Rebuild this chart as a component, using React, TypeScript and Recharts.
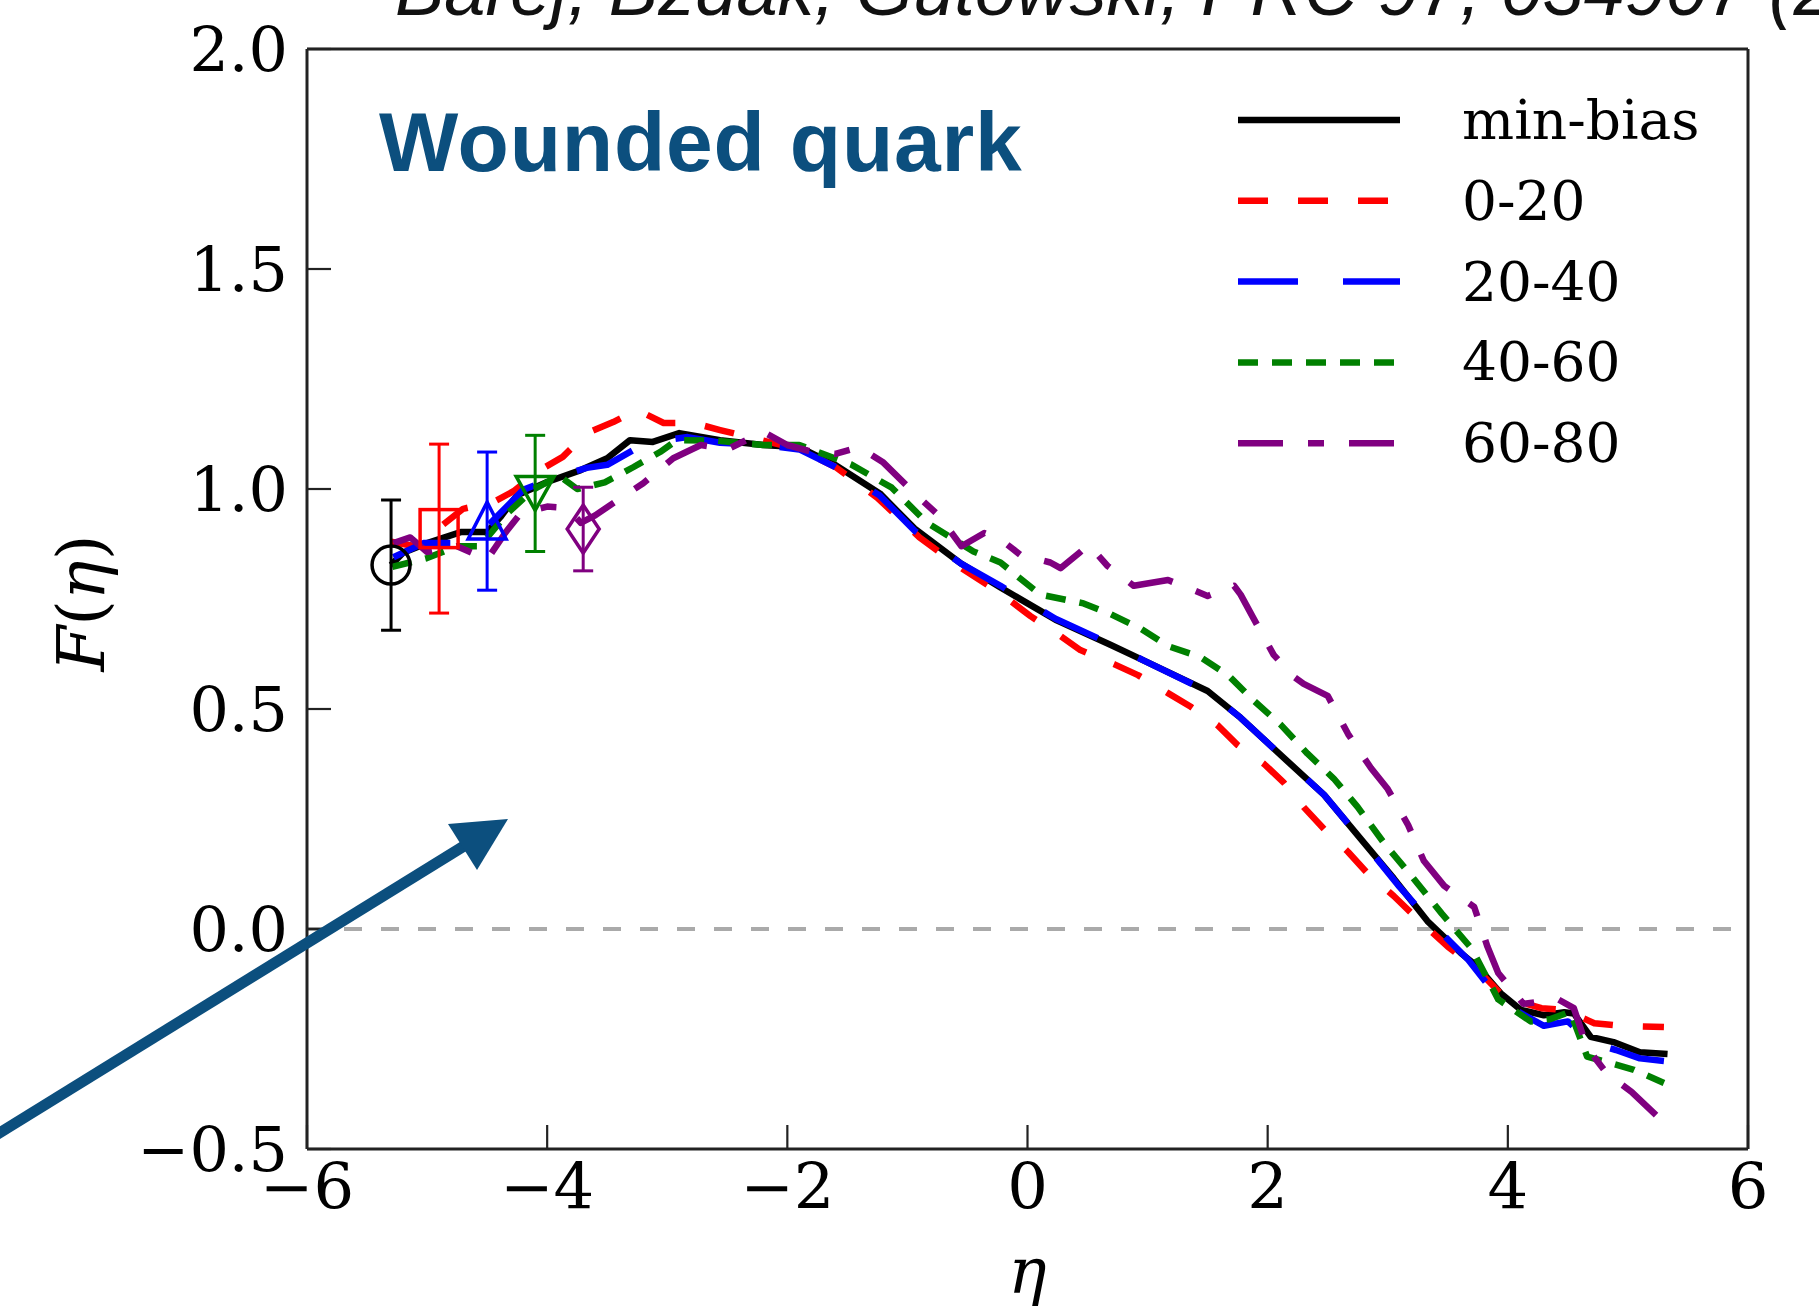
import React from "react";
import {
  ComposedChart,
  Line,
  Scatter,
  XAxis,
  YAxis,
  ReferenceLine,
  ErrorBar,
  Legend,
} from "recharts";

// ---------- data ----------
const xTicks = [-6, -4, -2, 0, 2, 4, 6];
const yTicks = [-0.5, 0, 0.5, 1.0, 1.5, 2.0];

const etaMinBias = [-5.3, -5.2, -5.0, -4.72, -4.5, -4.39, -4.25, -4.0, -3.72, -3.5, -3.31, -3.12, -2.9, -2.56, -2.2, -1.9, -1.61, -1.23, -0.94, -0.55, -0.225, 0.233, 0.69, 0.97, 1.5, 1.775, 2.13, 2.47, 2.775, 3.05, 3.33, 3.61, 3.75, 3.94, 4.11, 4.3, 4.47, 4.55, 4.69, 4.88, 5.1, 5.33];
const fMinBias = [0.827, 0.855, 0.877, 0.902, 0.902, 0.936, 0.986, 1.016, 1.043, 1.07, 1.111, 1.107, 1.127, 1.111, 1.1, 1.095, 1.056, 0.99, 0.91, 0.83, 0.776, 0.703, 0.646, 0.61, 0.541, 0.48, 0.39, 0.305, 0.205, 0.115, 0.018, -0.055, -0.086, -0.146, -0.184, -0.196, -0.189, -0.192, -0.245, -0.257, -0.28, -0.284];

const eta0020 = [-5.3, -5.1, -4.89, -4.7, -4.45, -4.28, -4.06, -3.87, -3.67, -3.45, -3.25, -3.03, -2.78, -2.56, -2.2, -1.9, -1.6, -1.25, -0.9, -0.55, -0.225, 0.025, 0.275, 0.44, 0.72, 0.92, 1.17, 1.36, 1.58, 1.75, 1.97, 2.13, 2.3, 2.47, 2.67, 2.83, 3.05, 3.22, 3.5, 3.75, 3.97, 4.28, 4.47, 4.72, 4.94, 5.3];
const f0020 = [0.88, 0.87, 0.914, 0.955, 0.97, 0.995, 1.043, 1.073, 1.127, 1.152, 1.18, 1.15, 1.15, 1.134, 1.11, 1.09, 1.05, 0.98, 0.89, 0.82, 0.763, 0.711, 0.666, 0.634, 0.602, 0.577, 0.536, 0.505, 0.464, 0.418, 0.375, 0.334, 0.277, 0.227, 0.175, 0.127, 0.075, 0.03, -0.04, -0.093, -0.155, -0.18, -0.184, -0.214, -0.22, -0.223];

const eta2040 = [-5.28, -5.03, -4.78, -4.6, -4.47, -4.2, -3.9, -3.67, -3.5, -3.28, -3.05, -2.83, -2.56, -2.2, -1.9, -1.6, -1.23, -0.94, -0.55, -0.225, 0.233, 0.69, 0.97, 1.5, 1.775, 2.13, 2.47, 2.775, 3.1, 3.36, 3.67, 3.89, 4.1, 4.3, 4.5, 4.7, 4.9, 5.1, 5.3];
const f2040 = [0.845, 0.877, 0.877, 0.89, 0.923, 0.998, 1.03, 1.048, 1.055, 1.089, 1.11, 1.118, 1.105, 1.1, 1.09, 1.05, 0.985, 0.905, 0.83, 0.78, 0.705, 0.648, 0.61, 0.54, 0.48, 0.39, 0.305, 0.205, 0.095, 0.015, -0.07, -0.146, -0.19, -0.22, -0.21, -0.26, -0.275, -0.294, -0.3];

const eta4060 = [-5.29, -5.0, -4.75, -4.56, -4.33, -4.12, -3.9, -3.75, -3.52, -3.28, -3.06, -2.92, -2.6, -2.2, -1.9, -1.47, -1.13, -0.84, -0.45, -0.225, -0.058, 0.108, 0.467, 0.69, 0.94, 1.17, 1.44, 1.67, 1.88, 2.11, 2.33, 2.55, 2.75, 2.97, 3.19, 3.45, 3.7, 3.92, 4.19, 4.35, 4.52, 4.66, 5.05, 5.3];
const f4060 = [0.823, 0.843, 0.87, 0.87, 0.945, 0.998, 1.03, 1.0, 1.015, 1.05, 1.084, 1.111, 1.11, 1.1, 1.1, 1.056, 1.003, 0.924, 0.858, 0.833, 0.796, 0.76, 0.74, 0.716, 0.683, 0.643, 0.618, 0.577, 0.52, 0.464, 0.399, 0.342, 0.277, 0.195, 0.123, 0.035, -0.045, -0.16, -0.21, -0.205, -0.188, -0.29, -0.32, -0.35];

const eta6080 = [-5.28, -5.14, -5.0, -4.75, -4.5, -4.35, -4.22, -4.0, -3.83, -3.72, -3.6, -3.45, -3.2, -2.95, -2.72, -2.5, -2.2, -2.0, -1.8, -1.6, -1.4, -1.2, -0.94, -0.74, -0.55, -0.36, -0.225, -0.058, 0.19, 0.275, 0.44, 0.51, 0.667, 0.885, 1.17, 1.33, 1.5, 1.72, 1.775, 1.88, 2.05, 2.22, 2.3, 2.5, 2.67, 2.8, 2.86, 3.0, 3.17, 3.3, 3.47, 3.72, 3.83, 3.92, 4.13, 4.42, 4.55, 4.66, 4.83, 5.03, 5.3];
const f6080 = [0.877, 0.89, 0.857, 0.87, 0.84, 0.9, 0.945, 0.96, 0.957, 0.923, 0.94, 0.968, 1.013, 1.07, 1.1, 1.09, 1.13, 1.1, 1.085, 1.08, 1.095, 1.06, 0.99, 0.94, 0.87, 0.9, 0.886, 0.85, 0.833, 0.82, 0.857, 0.874, 0.825, 0.78, 0.793, 0.776, 0.757, 0.78, 0.76, 0.707, 0.623, 0.573, 0.557, 0.53, 0.443, 0.39, 0.366, 0.318, 0.236, 0.155, 0.098, 0.05, -0.04, -0.1, -0.17, -0.16, -0.18, -0.27, -0.33, -0.37, -0.44];

const markerEta = [-5.3, -4.9, -4.5, -4.1, -3.7];
const markerF = [0.827, 0.91, 0.927, 0.99, 0.909];
const markerErr = [0.148, 0.192, 0.157, 0.132, 0.095];

const seriesNames = ["min-bias", "0-20", "20-40", "40-60", "60-80"];
const seriesColors = ["#000000", "#ff0000", "#0000ff", "#008000", "#800080"];
const seriesDashes = [undefined, "30 30", "60 45", "20 14", "45 25 16 25"];
const markerShapes = ["circle", "square", "triangleUp", "triangleDown", "thinDiamond"];

const toPoints = (xs: number[], ys: number[]) => xs.map((x, i) => ({ x, y: ys[i] }));
const seriesData = [
  toPoints(etaMinBias, fMinBias),
  toPoints(eta0020, f0020),
  toPoints(eta2040, f2040),
  toPoints(eta4060, f4060),
  toPoints(eta6080, f6080),
];
const markerData = markerEta.map((x, i) => [{ x, y: markerF[i], err: markerErr[i] }]);

// ---------- styling helpers ----------
const SERIF = "'DejaVu Serif', serif";
const SANS = "'Liberation Sans', Arial, sans-serif";
const FRAME = "#222222";
const LINE_W = 6.5;
const fmtNum = (v: number, digits: number) =>
  (v < 0 ? "\u2212" : "") + Math.abs(v).toFixed(digits);

const XTick = (props: any) => {
  const { x, y, payload } = props;
  return (
    <text x={x} y={y + 60} textAnchor="middle" fontFamily={SERIF} fontSize={64} fill="#000">
      {fmtNum(payload.value, 0)}
    </text>
  );
};

const YTick = (props: any) => {
  const { x, y, payload } = props;
  return (
    <text x={x - 19} y={y + 22} textAnchor="end" fontFamily={SERIF} fontSize={62} fill="#000">
      {fmtNum(payload.value, 1)}
    </text>
  );
};

const XLabel = (props: any) => {
  const vb = props.viewBox || { x: 307, y: 1149, width: 1441, height: 160 };
  return (
    <text x={vb.x + vb.width / 2} y={vb.y + 144} textAnchor="middle" fontFamily={SERIF} fontStyle="italic" fontSize={64} fill="#000">
      η
    </text>
  );
};

const YLabel = (props: any) => {
  const vb = props.viewBox || { x: 0, y: 49, width: 307, height: 1100 };
  const cx = vb.x + 81;
  const cy = vb.y + vb.height / 2 + 4;
  return (
    <text x={cx} y={cy} transform={`rotate(-90 ${cx} ${cy})`} textAnchor="middle" dominantBaseline="central" fontFamily={SERIF} fontSize={66} fill="#000">
      <tspan fontStyle="italic">F</tspan>
      <tspan>(</tspan>
      <tspan fontStyle="italic">η</tspan>
      <tspan>)</tspan>
    </text>
  );
};

const makeMarker = (kind: string, color: string) => (props: any) => {
  const { cx, cy } = props;
  const common = { fill: "none", stroke: color, strokeWidth: 3.5 };
  if (kind === "circle") return <circle cx={cx} cy={cy} r={19} {...common} />;
  if (kind === "square") return <rect x={cx - 19} y={cy - 19} width={38} height={38} {...common} />;
  if (kind === "triangleUp")
    return <polygon points={`${cx},${cy - 19} ${cx - 19},${cy + 18} ${cx + 19},${cy + 18}`} {...common} />;
  if (kind === "triangleDown")
    return <polygon points={`${cx - 19},${cy - 17} ${cx + 19},${cy - 17} ${cx},${cy + 17}`} {...common} />;
  return <polygon points={`${cx},${cy - 24} ${cx + 16},${cy} ${cx},${cy + 24} ${cx - 16},${cy}`} {...common} />;
};

const LegendContent = () => (
  <svg width={560} height={400} style={{ display: "block" }}>
    {seriesNames.map((name, i) => {
      const y = 40 + i * 80.8;
      return (
        <g key={name}>
          <line x1={22} x2={184} y1={y} y2={y} stroke={seriesColors[i]} strokeWidth={LINE_W} strokeDasharray={seriesDashes[i]} />
          <text x={246} y={y + 19} fontFamily={SERIF} fontSize={55} fill="#000">
            {name}
          </text>
        </g>
      );
    })}
  </svg>
);

export default function App() {
  return (
    <div style={{ position: "absolute", left: 0, top: 0, width: 1819, height: 1309, background: "#fff", overflow: "hidden" }}>
      <ComposedChart width={1819} height={1309} margin={{ top: 48, right: 70, bottom: 0, left: 0 }}>
        <XAxis
          xAxisId="b"
          dataKey="x"
          type="number"
          domain={[-6, 6]}
          ticks={xTicks}
          interval={0}
          allowDataOverflow
          orientation="bottom"
          height={160}
          tickSize={-24}
          tickMargin={24}
          tick={<XTick />}
          axisLine={{ stroke: FRAME, strokeWidth: 3 }}
          tickLine={{ stroke: FRAME, strokeWidth: 2.2 }}
          label={<XLabel />}
        />
        <XAxis
          xAxisId="t"
          dataKey="x"
          type="number"
          domain={[-6, 6]}
          ticks={xTicks}
          interval={0}
          allowDataOverflow
          orientation="top"
          height={1}
          tickSize={-24}
          tick={false}
          axisLine={{ stroke: FRAME, strokeWidth: 3 }}
          tickLine={{ stroke: FRAME, strokeWidth: 2.2 }}
        />
        <YAxis
          yAxisId="l"
          type="number"
          domain={[-0.5, 2]}
          ticks={yTicks}
          interval={0}
          allowDataOverflow
          width={307}
          tickSize={-24}
          tickMargin={24}
          tick={<YTick />}
          axisLine={{ stroke: FRAME, strokeWidth: 3 }}
          tickLine={{ stroke: FRAME, strokeWidth: 2.2 }}
          label={<YLabel />}
        />
        <YAxis
          yAxisId="r"
          orientation="right"
          type="number"
          domain={[-0.5, 2]}
          ticks={yTicks}
          interval={0}
          allowDataOverflow
          width={1}
          tickSize={-24}
          tick={false}
          axisLine={{ stroke: FRAME, strokeWidth: 3 }}
          tickLine={{ stroke: FRAME, strokeWidth: 2.2 }}
        />
        <ReferenceLine xAxisId="b" yAxisId="l" y={0} stroke="#aaaaaa" strokeWidth={4} strokeDasharray="18 19" />
        {seriesData.map((d, i) => (
          <Line
            key={seriesNames[i]}
            xAxisId="b"
            yAxisId="l"
            data={d}
            dataKey="y"
            type="linear"
            name={seriesNames[i]}
            stroke={seriesColors[i]}
            strokeWidth={LINE_W}
            strokeDasharray={seriesDashes[i]}
            strokeLinejoin="round"
            dot={false}
            activeDot={false}
            isAnimationActive={false}
          />
        ))}
        {markerData.map((d, i) => (
          <Scatter
            key={"m" + i}
            xAxisId="b"
            yAxisId="l"
            data={d}
            dataKey="y"
            legendType="none"
            shape={makeMarker(markerShapes[i], seriesColors[i])}
            isAnimationActive={false}
          >
            <ErrorBar dataKey="err" direction="y" width={10} stroke={seriesColors[i]} strokeWidth={3} isAnimationActive={false} />
          </Scatter>
        ))}
        <Legend
          layout="vertical"
          align="center"
          verticalAlign="middle"
          content={<LegendContent />}
          wrapperStyle={{ position: "absolute", left: 1216, top: 80, width: 560, height: 400 }}
        />
      </ComposedChart>
      <svg width={1819} height={1309} style={{ position: "absolute", left: 0, top: 0, pointerEvents: "none" }}>
        <text x={395} y={15} fontFamily={SANS} fontStyle="italic" fontSize={74} fill="#111">
          Barej, Bzdak, Gutowski, PRC 97, 034907 (2018)
        </text>
        <text x={379} y={171} fontFamily={SANS} fontWeight={700} fontSize={84} letterSpacing={0.8} fill="#0c4f7e">
          Wounded quark
        </text>
        <line x1={-20} y1={1145} x2={464} y2={846} stroke="#0c4f7e" strokeWidth={11} />
        <polygon points="508,819 448,824 477,870" fill="#0c4f7e" />
      </svg>
    </div>
  );
}
